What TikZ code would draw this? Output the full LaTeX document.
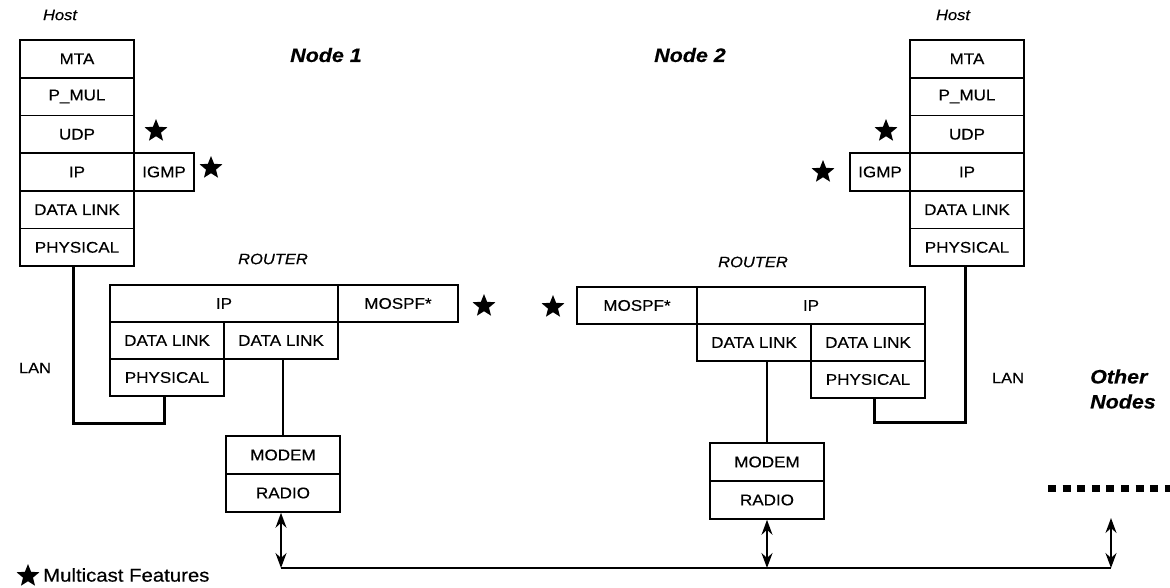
\documentclass[tikz,border=0pt]{standalone}
\usepackage{fontspec}
\setmainfont[FakeStretch=1.1,FakeBold=0.4]{Liberation Sans}
\usetikzlibrary{shapes.geometric,arrows.meta}
\begin{document}
\begin{tikzpicture}[x=1pt,y=-1pt,
  cell/.style={draw,line width=1.6pt,minimum width=114pt,minimum height=37.7pt,inner sep=0pt,font=\fontsize{15.5}{17}\selectfont},
  rcell/.style={cell,minimum height=37pt},
  lbl/.style={font=\fontsize{15}{17}\selectfont\itshape,inner sep=0pt},
  big/.style={font=\fontsize{19.5}{24}\selectfont\bfseries\itshape,inner sep=0pt},
  plain/.style={font=\fontsize{15}{17}\selectfont,inner sep=0pt},
  mstar/.style={star,star points=5,star point ratio=2.3,fill=black,draw=none,minimum size=24pt,inner sep=0pt},
  lan/.style={line width=3pt},
  link/.style={line width=2.2pt},
  arr/.style={line width=1.8pt,{Stealth[length=15pt,width=11pt,inset=5pt]}-{Stealth[length=15pt,width=11pt,inset=5pt]}}
]
\useasboundingbox (0,0) rectangle (1170,587);
\fill[white] (0,0) rectangle (1170,587);

% ---------- left host ----------
\node[lbl] (hostL) at (60,15) {Host};
\node[cell] (hL1) at (77,58.85) {MTA};
\node[cell] (hL2) at (77,96.55) {P\_MUL};
\node[cell] (hL3) at (77,134.25) {UDP};
\node[cell] (hL4) at (77,171.95) {IP};
\node[cell] (hL5) at (77,209.65) {DATA LINK};
\node[cell] (hL6) at (77,247.35) {PHYSICAL};
\node[cell,minimum width=60pt] (igL) at (164,171.95) {IGMP};
\node[mstar] (sL1) at (156,131) {};
\node[mstar] (sL2) at (211,168) {};

% ---------- right host ----------
\node[lbl] (hostR) at (953,15) {Host};
\node[cell] (hR1) at (967,58.85) {MTA};
\node[cell] (hR2) at (967,96.55) {P\_MUL};
\node[cell] (hR3) at (967,134.25) {UDP};
\node[cell] (hR4) at (967,171.95) {IP};
\node[cell] (hR5) at (967,209.65) {DATA LINK};
\node[cell] (hR6) at (967,247.35) {PHYSICAL};
\node[cell,minimum width=60pt] (igR) at (880,171.95) {IGMP};
\node[mstar] (sR1) at (886,131) {};
\node[mstar] (sR2) at (823,172) {};

% ---------- titles ----------
\node[big] (n1) at (326,55) {Node 1};
\node[big] (n2) at (690,55) {Node 2};

% ---------- left router ----------
\node[lbl] (rtL) at (273,259) {ROUTER};
\node[rcell,minimum width=228pt] (rLip) at (224,303.5) {IP};
\node[rcell,minimum width=120pt] (rLmo) at (398,303.5) {MOSPF*};
\node[rcell] (rLdl1) at (167,340.5) {DATA LINK};
\node[rcell] (rLdl2) at (281,340.5) {DATA LINK};
\node[rcell] (rLphy) at (167,377.5) {PHYSICAL};
\node[mstar] (sL3) at (484,306) {};

% ---------- right router ----------
\node[lbl] (rtR) at (753,262) {ROUTER};
\node[rcell,minimum width=120pt] (rRmo) at (637,305.5) {MOSPF*};
\node[rcell,minimum width=228pt] (rRip) at (811,305.5) {IP};
\node[rcell] (rRdl1) at (754,342.5) {DATA LINK};
\node[rcell] (rRdl2) at (868,342.5) {DATA LINK};
\node[rcell] (rRphy) at (868,379.5) {PHYSICAL};
\node[mstar] (sR3) at (553,307) {};

% ---------- modems ----------
\node[cell,minimum height=38pt] (mL) at (283,455) {MODEM};
\node[cell,minimum height=38pt] (raL) at (283,493) {RADIO};
\node[cell,minimum height=38pt] (mR) at (767,462) {MODEM};
\node[cell,minimum height=38pt] (raR) at (767,500) {RADIO};

% ---------- LAN labels ----------
\node[plain] (lanL) at (35,368) {LAN};
\node[plain] (lanR) at (1008,378) {LAN};
\node[big,align=left,anchor=west,font=\fontsize{19.5}{25}\selectfont\bfseries\itshape] (oth) at (1090,389) {Other\\Nodes};

% ---------- wires ----------
\draw[lan] ([xshift=-4pt]hL6.south) -- ++(0,156) -| ([xshift=-3pt]rLphy.south);
\draw[lan] ([xshift=6pt]rRphy.south) -- ++(0,24) -| ([xshift=-2pt]hR6.south);
\draw[link] (mL.north) -- (mL.north |- rLdl2.south);
\draw[link] (mR.north) -- (mR.north |- rRdl1.south);

% ---------- radio bus ----------
\coordinate (busL) at (281,568);
\coordinate (busR) at (1111,568);
\coordinate (othTop) at (1111,518);
\draw[link] (busL) -- (busR);
\draw[arr] ([xshift=-2pt]raL.south) -- (busL);
\draw[arr] (raR.south) -- (raR.south |- busR);
\draw[arr] (othTop) -- (busR);

% ---------- dotted continuation ----------
\coordinate (dotA) at (1048,488);
\coordinate (dotB) at (1172,488);
\draw[line width=7pt,dash pattern=on 8pt off 6.6pt] (dotA) -- (dotB);

% ---------- legend ----------
\node[mstar] (sLeg) at (28,576) {};
\node[plain,anchor=west,font=\fontsize{18.5}{20}\selectfont] (leg) at (43,575) {Multicast Features};
\end{tikzpicture}
\end{document}
